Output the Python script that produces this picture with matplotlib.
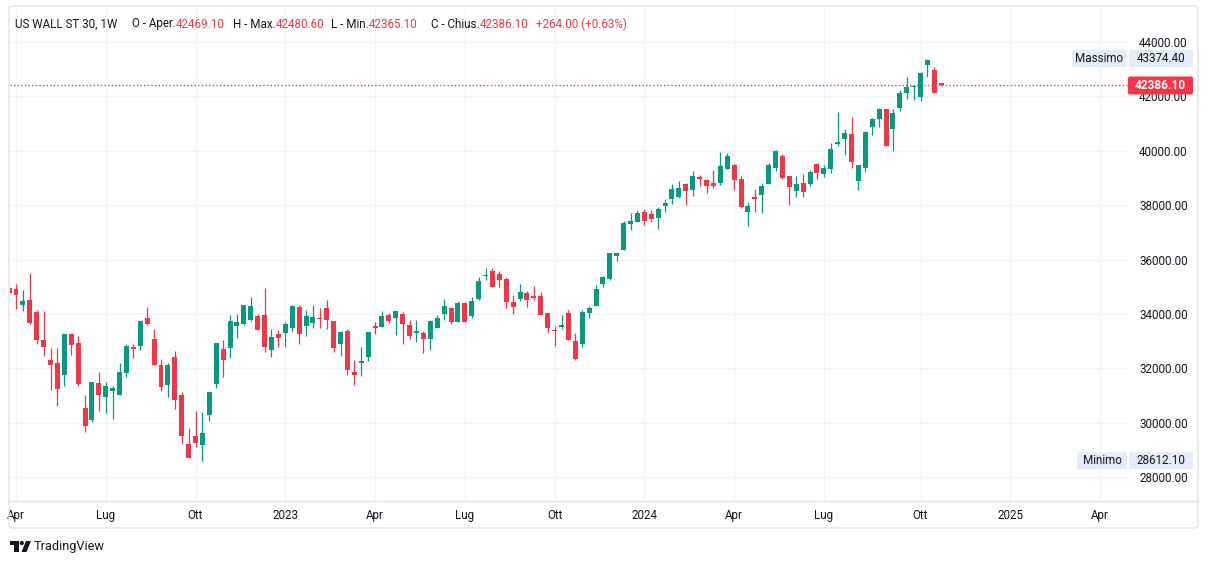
import numpy as np
import pandas as pd
import matplotlib
matplotlib.use("Agg")
import matplotlib.pyplot as plt
from matplotlib.patches import FancyBboxPatch, Rectangle, Polygon, Circle
from matplotlib.lines import Line2D
from matplotlib.transforms import IdentityTransform

plt.rcParams["font.family"] = ["Roboto", "DejaVu Sans"]

# weekly OHLC, US WALL ST 30, weeks starting 2022-03-28
opens = [34950, 34906, 34341, 34514, 34086, 33046, 32312, 32202, 31761, 33266,
         32936, 30550, 30110, 31468, 30965, 31186, 31027, 31846, 32789, 32826,
         33853, 33083, 32129, 31406, 32422, 31027, 29240, 29534, 29204, 30304,
         31442, 32716, 32763, 33560, 33633, 33780, 33927, 33963, 32679, 33266,
         33303, 33486, 34257, 33560, 33670, 33853, 34220, 33743, 32899, 33376,
         31871, 32202, 32422, 33560, 33523, 33963, 33853, 34000, 33596, 33303,
         33303, 33083, 33486, 34000, 34220, 33706, 34404, 33927, 34550, 35406,
         35578, 35468, 35284, 34440, 34550, 34770, 34660, 34660, 34037, 33413,
         33523, 34037, 33009, 32899, 34037, 34294, 35101, 35284, 36129, 36349,
         37303, 37376, 37743, 37670, 37523, 37964, 38220, 38294, 38771, 38551,
         39028, 38918, 38808, 38808, 39321, 39468, 38955, 37743, 38294, 38367,
         38771, 39358, 39798, 39065, 38514, 38808, 38771, 39505, 39138, 39321,
         40239, 40422, 40606, 38881, 39358, 40863, 41157, 41524, 40789, 41560,
         42110, 42330, 41963, 43138, 42955, 42469.1]
highs = [35100, 35100, 34881, 35505, 34147, 34110, 32752, 32752, 33266, 33314,
         33193, 31027, 31504, 31871, 31504, 31358, 32202, 32899, 32899, 33743,
         34257, 33450, 32349, 32202, 32642, 31137, 29816, 30440, 30404, 31137,
         32936, 33046, 33963, 34000, 34330, 34624, 34000, 34954, 33450, 33413,
         33706, 34330, 34330, 34147, 34330, 34220, 34514, 33743, 33376, 33450,
         32312, 32789, 33339, 33706, 34110, 34037, 34110, 34073, 33780, 33780,
         33376, 33780, 33963, 34550, 34257, 34477, 34440, 34624, 35358, 35688,
         35688, 35578, 35358, 34697, 35101, 34844, 35027, 34807, 34037, 33560,
         33963, 34147, 33303, 34147, 34294, 35064, 35394, 36239, 36275, 37413,
         37707, 37817, 37854, 37817, 37927, 38220, 38771, 38881, 38808, 39248,
         39101, 38955, 39284, 39945, 39908, 39505, 39065, 38110, 38588, 38808,
         39542, 40019, 39872, 39065, 39065, 39138, 39284, 39542, 39468, 40276,
         41413, 40790, 41230, 39468, 40716, 41193, 41560, 41524, 41524, 42220,
         42698, 42367, 42881, 43374.4, 43065, 42480.6]
lows = [34600, 34195, 34121, 33650, 32899, 32459, 31211, 30624, 31358, 32495,
        31358, 29670, 30037, 30440, 30367, 30147, 31027, 31699, 32385, 32679,
        33596, 32129, 31186, 30965, 30525, 29240, 28726, 29130, 28612.1, 30084,
        31296, 31699, 32396, 33119, 33596, 33743, 33413, 32605, 32422, 32789,
        32789, 33339, 32899, 33193, 33486, 33486, 33450, 32605, 32459, 31761,
        31394, 31724, 32275, 33266, 33523, 33670, 33229, 32899, 33083, 32972,
        32569, 32679, 33486, 33780, 33633, 33706, 33706, 33853, 34514, 35248,
        34991, 34991, 34220, 34000, 34477, 34257, 34514, 33963, 33303, 32826,
        33450, 33046, 32312, 32789, 33853, 34294, 34991, 35248, 35945, 36349,
        37083, 37376, 37266, 37376, 37120, 37743, 38037, 38257, 38000, 38330,
        38698, 38440, 38624, 38734, 39321, 38551, 37890, 37230, 37743, 37707,
        38771, 39248, 38955, 38000, 38294, 38294, 38698, 38955, 39028, 39175,
        40166, 39835, 39358, 38551, 39211, 40569, 40863, 40180, 39982, 41450,
        41890, 41853, 41817, 42698, 42122.1, 42365.1]
closes = [34780, 34708, 34477, 33681, 33046, 32801, 32129, 31259, 33266, 32862,
          31431, 29901, 31504, 31027, 31358, 31284, 31871, 32826, 32716, 33743,
          33633, 32129, 31333, 32129, 30855, 29534, 28726, 29277, 29632, 31137,
          32936, 32323, 33743, 33706, 34330, 34294, 33413, 32789, 33156, 33119,
          33633, 34294, 33266, 33927, 33890, 33816, 33780, 32752, 33339, 31945,
          31761, 32275, 33339, 33486, 33927, 33743, 34110, 33633, 33193, 33376,
          33083, 33743, 33853, 34294, 33706, 34404, 33706, 34477, 35211, 35431,
          34991, 35248, 34440, 34257, 34807, 34514, 34587, 33963, 33486, 33376,
          33596, 33046, 32349, 34073, 34220, 34917, 35358, 36239, 36239, 37340,
          37413, 37707, 37413, 37486, 37854, 38074, 38587, 38624, 38514, 39065,
          38955, 38698, 38698, 39431, 39798, 38918, 37927, 37964, 38231, 38698,
          39468, 39982, 38991, 38661, 38771, 38477, 39211, 39175, 39358, 40055,
          40312, 40642, 39578, 39468, 40679, 41157, 41524, 40180, 41376, 42110,
          42330, 42367, 42845, 43322, 42122.1, 42386.1]

first_week = "2022-03-28"
tick_months = ["2022-04-01", "2022-07-01", "2022-10-01", "2023-01-01", "2023-04-01",
               "2023-07-01", "2023-10-01", "2024-01-01", "2024-04-01", "2024-07-01",
               "2024-10-01", "2025-01-01", "2025-04-01"]
tick_labels = ["Apr", "Lug", "Ott", "2023", "Apr", "Lug", "Ott", "2024", "Apr", "Lug",
               "Ott", "2025", "Apr"]
y_ticks = list(range(28000, 44001, 2000))

UP = "#089981"
DOWN = "#f23645"
TXT = "#131722"
GRID = "#f0f3fa"
BORDER = "#e0e3eb"
LBL_BG = "#e3ecf8"

W, H = 1209, 564
fig = plt.figure(figsize=(W / 100, H / 100), dpi=100)
fig.patch.set_facecolor("white")

# pane in pixels (from top)
L, R, T, B = 10, 1128, 6, 501
ax = fig.add_axes([L / W, 1 - B / H, (R - L) / W, (B - T) / H])

bar_px = 6.905
x0_px = 9.1
ax.set_xlim((L - x0_px) / bar_px, (R - x0_px) / bar_px)
ppx = 36.7
ax.set_ylim(34000 - (B - 314) * ppx, 34000 + (314 - T) * ppx)

o = np.array(opens)
h = np.array(highs)
lo = np.array(lows)
c = np.array(closes)
idx = np.arange(len(o))
cols = np.where(c >= o, UP, DOWN)

ax.vlines(idx, lo, h, colors=cols, linewidth=0.9, zorder=3)
body = np.abs(c - o)
bottom = np.minimum(o, c)
thin = body < 40
bottom = np.where(thin, (o + c) / 2 - 20, bottom)
body = np.where(thin, 40, body)
ax.bar(idx, body, bottom=bottom, width=0.72, color=cols, linewidth=0, zorder=4)

# ticks
start = pd.Timestamp(first_week)
xt = []
for m in tick_months:
    d = pd.Timestamp(m)
    fm = d + pd.Timedelta(days=(7 - d.weekday()) % 7)
    xt.append((fm - start).days / 7)
ax.set_xticks(xt)
ax.set_xticklabels(tick_labels)
ax.set_yticks(y_ticks)
ax.set_yticklabels([f"{v:.2f}" for v in y_ticks])
ax.yaxis.tick_right()
ax.tick_params(axis="y", length=0, pad=8, labelsize=8.4, labelcolor=TXT)
ax.tick_params(axis="x", length=0, pad=6, labelsize=8.4, labelcolor=TXT)
ax.grid(True, color=GRID, linewidth=1)
ax.set_axisbelow(True)
for s in ax.spines.values():
    s.set_visible(False)

last = closes[-1]
ax.axhline(last, color=DOWN, linestyle=(0, (1, 1.6)), linewidth=1, zorder=2)

idt = IdentityTransform()


def py(price):
    return ax.transData.transform((0, price))[1]


def box(x1, x2, yc, hh, color, rad=2):
    p = FancyBboxPatch((x1, yc - hh / 2), x2 - x1, hh,
                       boxstyle=f"round,pad=0,rounding_size={rad}",
                       facecolor=color, edgecolor="none", transform=idt)
    fig.add_artist(p)


# frame
fig.add_artist(FancyBboxPatch((9, H - 528), 1198 - 9, 528 - 6,
                              boxstyle="round,pad=0,rounding_size=4",
                              facecolor="none", edgecolor=BORDER, linewidth=1,
                              transform=idt))
fig.add_artist(Line2D([9, 1198], [H - B, H - B], color=BORDER, linewidth=1,
                      transform=idt))

fig.canvas.draw()

# Massimo / Minimo / last price labels
hi = max(highs)
lw_ = min(lows)
yc = py(hi)
box(1072, 1127, yc, 17, LBL_BG)
box(1129, 1193, yc, 17, LBL_BG)
fig.text(1099.5 / W, yc / H, "Massimo", ha="center", va="center",
         fontsize=8.4, color=TXT)
fig.text(1161 / W, yc / H, f"{hi:.2f}", ha="center", va="center", fontsize=8.4,
         color=TXT)

yc = py(lw_)
box(1077, 1127, yc, 17, LBL_BG)
box(1129, 1193, yc, 17, LBL_BG)
fig.text(1102 / W, yc / H, "Minimo", ha="center", va="center", fontsize=8.4,
         color=TXT)
fig.text(1161 / W, yc / H, f"{lw_:.2f}", ha="center", va="center", fontsize=8.4,
         color=TXT)

yc = py(last)
box(1128, 1193, yc, 18, DOWN)
fig.text(1160.5 / W, yc / H, f"{last:.2f}", ha="center", va="center",
         fontsize=8.6, color="white", fontweight="bold")

# header legend: label sits right before its value
chg = closes[-1] - closes[-2]
pct = chg / closes[-2] * 100
hy = 1 - 24 / H
fig.text(15 / W, hy, "US WALL ST 30, 1W", ha="left", va="center",
         fontsize=8.4, color=TXT)
pairs = [(175.5, "O - Aper.", opens[-1]), (275.5, "H - Max.", highs[-1]),
         (369, "L - Min.", lows[-1]), (479.5, "C - Chius.", closes[-1])]
for x, lab, v in pairs:
    fig.text(x / W, hy, lab, ha="right", va="center", fontsize=8.4, color=TXT)
    fig.text(x / W, hy, f"{v:.2f}", ha="left", va="center", fontsize=8.4,
             color=DOWN)
fig.text(536.5 / W, hy, f"{chg:+.2f} ({pct:+.2f}%)", ha="left", va="center",
         fontsize=8.4, color=DOWN)

# TradingView logo
lc = TXT
fig.add_artist(Rectangle((10, H - 545), 8.5, 4, facecolor=lc, edgecolor="none",
                         transform=idt))
fig.add_artist(Rectangle((14, H - 552), 4.5, 11, facecolor=lc, edgecolor="none",
                         transform=idt))
fig.add_artist(Circle((21.8, H - 543), 2.1, facecolor=lc, edgecolor="none",
                      transform=idt))
fig.add_artist(Polygon([(21.5, H - 552), (26.5, H - 552), (31, H - 541),
                        (26, H - 541)], closed=True, facecolor=lc,
                       edgecolor="none", transform=idt))
fig.text(34 / W, 1 - 546.5 / H, "TradingView", ha="left", va="center",
         fontsize=9.2, color=TXT)

fig.savefig("out.png", dpi=100, facecolor="white")
